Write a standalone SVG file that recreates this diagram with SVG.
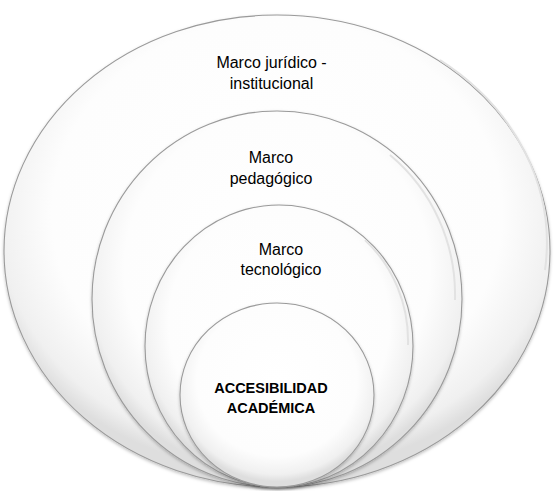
<svg xmlns="http://www.w3.org/2000/svg" width="554" height="491" viewBox="0 0 554 491">
<style>
.ring{fill:url(#g);stroke:#9a9a9a;stroke-width:1.1;filter:url(#sh)}
.hl{fill:none;stroke:#e2e2e2;stroke-width:2}
.t{font-family:"Liberation Sans",Arial,sans-serif;font-size:16px;fill:#000;text-anchor:middle}
.b{font-weight:bold;font-size:14.5px}
</style>
<defs>
<radialGradient id="g" cx="0.5" cy="0.42" r="0.55">
<stop offset="0" stop-color="#ffffff"/>
<stop offset="0.75" stop-color="#fdfdfd"/>
<stop offset="0.93" stop-color="#f0f0f0"/>
<stop offset="1" stop-color="#dedede"/>
</radialGradient>
<filter id="sh" x="-10%" y="-10%" width="120%" height="120%">
<feDropShadow dx="0" dy="1.5" stdDeviation="1.5" flood-color="#000" flood-opacity="0.25"/>
</filter>
</defs>
<rect width="554" height="491" fill="#fff"/>
<g id="juridico">
<ellipse class="ring" cx="277" cy="251" rx="273" ry="236"/>
<path class="hl" d="M 440 60 A 265 228 0 0 1 545 270"/>
<text class="t" x="271.5" y="68">Marco jurídico -</text>
<text class="t" x="271.5" y="89">institucional</text>
</g>
<g id="pedagogico">
<ellipse class="ring" cx="277" cy="299" rx="185" ry="188"/>
<path class="hl" d="M 390 155 A 178 181 0 0 1 455 300"/>
<text class="t" x="271" y="163">Marco</text>
<text class="t" x="271" y="184">pedagógico</text>
</g>
<g id="tecnologico">
<ellipse class="ring" cx="279" cy="346" rx="134" ry="141"/>
<path class="hl" d="M 365 240 A 128 135 0 0 1 408 345"/>
<text class="t" x="281" y="255">Marco</text>
<text class="t" x="281" y="275">tecnológico</text>
</g>
<g id="accesibilidad">
<ellipse class="ring" cx="277" cy="395" rx="97" ry="92"/>
<text class="t b" x="271" y="393">ACCESIBILIDAD</text>
<text class="t b" x="271" y="413">ACADÉMICA</text>
</g>
<g id="connectors"/>
</svg>
